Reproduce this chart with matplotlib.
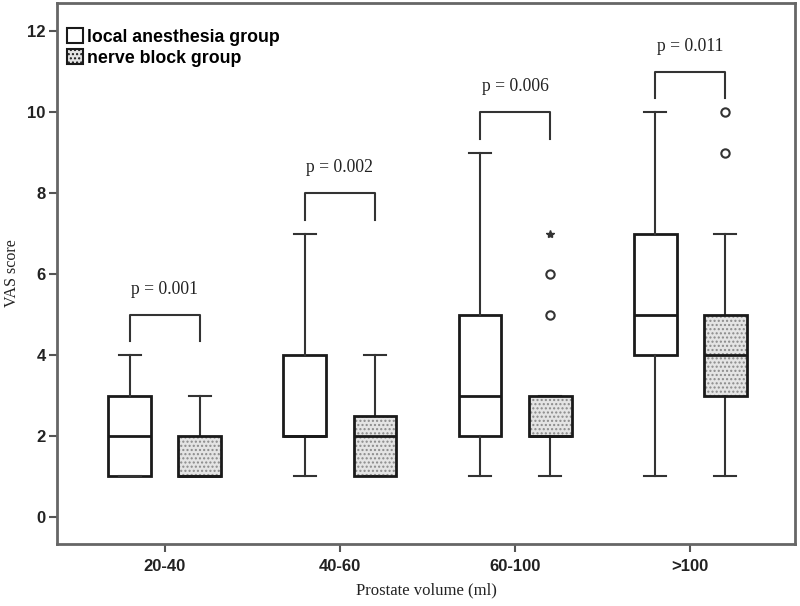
import numpy as np
import matplotlib
matplotlib.use("Agg")
import matplotlib.pyplot as plt
from matplotlib.patches import Patch, PathPatch

# VAS scores per prostate volume group
groups = ["20-40", "40-60", "60-100", ">100"]

# local anesthesia group: lower whisker, q1, median, q3, upper whisker
local_lo = [1, 1, 1, 1]
local_q1 = [1, 2, 2, 4]
local_med = [2, 2, 3, 5]
local_q3 = [3, 4, 5, 7]
local_hi = [4, 7, 9, 10]
local_out = [[], [], [], []]
local_ext = [[], [], [], []]

# nerve block group
nerve_lo = [1, 1, 1, 1]
nerve_q1 = [1, 1, 2, 3]
nerve_med = [1, 2, 2, 4]
nerve_q3 = [2, 2.5, 3, 5]
nerve_hi = [3, 4, 3, 7]
nerve_out = [[], [], [5, 6], [9, 10]]
nerve_ext = [[], [], [7], []]

p_values = ["p = 0.001", "p = 0.002", "p = 0.006", "p = 0.011"]
bracket_top = [5, 8, 10, 11]

sans = ["Liberation Sans", "DejaVu Sans"]
serif = ["Liberation Serif", "DejaVu Serif"]
ink = "#1a1a1a"


def stats(lo, q1, med, q3, hi, out):
    res = []
    for i in range(len(lo)):
        res.append(dict(whislo=lo[i], q1=q1[i], med=med[i], q3=q3[i],
                        whishi=hi[i], fliers=out[i]))
    return res


fig = plt.figure(figsize=(8, 6.06), dpi=100)
ax = fig.add_axes([0.071, 0.1023, 0.923, 0.8927])

x = np.arange(len(groups))
off = 0.2
w = 0.245

common = dict(widths=w, patch_artist=True, showfliers=True,
              boxprops=dict(linewidth=2.0, edgecolor=ink),
              medianprops=dict(color=ink, linewidth=2.0),
              whiskerprops=dict(color="#333333", linewidth=1.5),
              capprops=dict(color="#333333", linewidth=1.5),
              flierprops=dict(marker="o", markersize=6, markerfacecolor="white",
                              markeredgecolor="#333333", markeredgewidth=1.5))
common["capwidths"] = w / 2

b1 = ax.bxp(stats(local_lo, local_q1, local_med, local_q3, local_hi, local_out),
            positions=x - off, **common)
b2 = ax.bxp(stats(nerve_lo, nerve_q1, nerve_med, nerve_q3, nerve_hi, nerve_out),
            positions=x + off, **common)

for box in b1["boxes"]:
    box.set_facecolor("white")
for box in b2["boxes"]:
    z = box.get_zorder()
    # grey ground, then the stipple, then the box outline on top
    ax.add_patch(PathPatch(box.get_path(), transform=box.get_transform(),
                           facecolor="#e4e4e4", edgecolor="none", linewidth=0,
                           zorder=z - 0.1))
    ax.add_patch(PathPatch(box.get_path(), transform=box.get_transform(),
                           facecolor="none", edgecolor="#8a8a8a", hatch="....",
                           linewidth=0, zorder=z))
    box.set_facecolor("none")
    box.set_zorder(z + 0.1)

# extreme values (star)
for i, ext in enumerate(nerve_ext):
    if ext:
        ax.plot([x[i] + off] * len(ext), ext, linestyle="none", marker="*",
                markersize=6, color="#333333")

# significance brackets
leg = 0.65
for i in range(len(groups)):
    xl, xr = x[i] - off, x[i] + off
    yt = bracket_top[i]
    ax.plot([xl, xl, xr, xr], [yt - leg, yt, yt, yt - leg], color="#333333", lw=1.5)
    ax.text(x[i], yt + 0.42, p_values[i], ha="center", va="bottom",
            fontsize=12.7, family=serif, color="#222222")

ax.set_xlim(-0.617, 3.6)
ax.set_ylim(-0.67, 12.7)
ax.set_xticks(x)
ax.set_xticklabels(groups)
ax.set_yticks(np.arange(0, 13, 2))
for lab in ax.get_xticklabels() + ax.get_yticklabels():
    lab.set_family(sans)
    lab.set_fontweight("bold")
    lab.set_fontsize(12)
    lab.set_color("#222222")
ax.tick_params(axis="both", direction="out", length=6, width=1.5, color="#555555")
ax.tick_params(axis="x", pad=5)
ax.tick_params(axis="y", pad=2)

for s in ax.spines.values():
    s.set_color("#666666")
    s.set_linewidth(2)

ax.set_ylabel("VAS score", family=serif, fontsize=11.5, color="#222222")
ax.yaxis.set_label_coords(-0.05, 0.5)
ax.set_xlabel("Prostate volume (ml)", family=serif, fontsize=12, color="#222222",
              labelpad=6)

handles = [Patch(facecolor="white", edgecolor=ink, linewidth=1.5),
           Patch(facecolor="#e4e4e4", edgecolor=ink, linewidth=1.5, hatch="....")]
ax.legend(handles, ["local anesthesia group", "nerve block group"],
          loc="upper left", bbox_to_anchor=(0.002, 0.97), frameon=False,
          handlelength=0.9, handleheight=0.9, handletextpad=0.2,
          labelspacing=0.2, borderpad=0,
          prop=dict(family=sans, weight="bold", size=12.8))

fig.savefig("out.png", dpi=100)
